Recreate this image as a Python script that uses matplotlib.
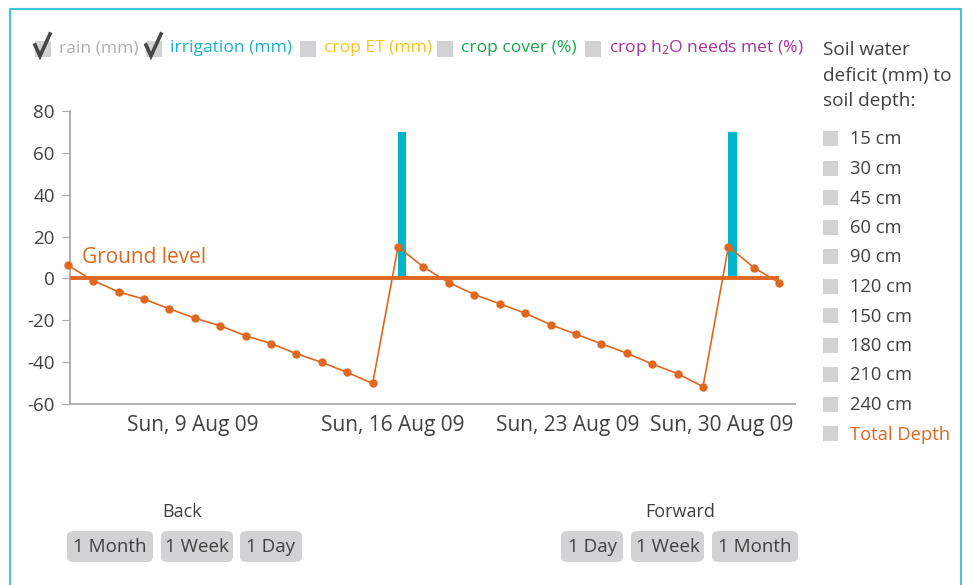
import matplotlib
matplotlib.use("Agg")
import numpy as np
from matplotlib import pyplot as plt
from matplotlib.patches import FancyBboxPatch, Rectangle
from matplotlib.lines import Line2D

plt.rcParams['font.family'] = ['Open Sans', 'DejaVu Sans']
plt.rcParams['mathtext.fontset'] = 'custom'
plt.rcParams['mathtext.rm'] = 'Open Sans'
plt.rcParams['mathtext.it'] = 'Open Sans'

# soil water deficit, total depth (mm), one value per day
days = list(range(29))
deficit = [6.3, -1.0, -6.4, -9.9, -14.5, -19.0, -22.6, -27.4, -31.1, -36.0,
           -40.1, -44.9, -50.2, 15.2, 5.4, -2.0, -7.7, -12.1, -16.6, -22.1,
           -26.6, -31.2, -35.7, -40.9, -45.5, -51.7, 15.2, 5.2, -2.1]
# irrigation events
irrig_days = [13, 26]
irrig_mm = [70, 70]
# date labels (positions in days as drawn)
date_pos = [4.93, 12.8, 19.69, 25.75]
date_labels = ["Sun, 9 Aug 09", "Sun, 16 Aug 09", "Sun, 23 Aug 09", "Sun, 30 Aug 09"]
yticks = [-60, -40, -20, 0, 20, 40, 60, 80]

legend_items = ["rain (mm)", "irrigation (mm)", "crop ET (mm)", "crop cover (%)",
                r"crop h$_\mathrm{2}$O needs met (%)"]
legend_colors = ["#b0b0b0", "#1ab4d0", "#fcc418", "#1aa84e", "#a8329a"]
legend_checked = [True, True, False, False, False]
legend_box_x = [35, 146, 300, 437, 585]
depths = ["15 cm", "30 cm", "45 cm", "60 cm", "90 cm", "120 cm", "150 cm",
          "180 cm", "210 cm", "240 cm", "Total Depth"]

W, H = 963, 585
ORANGE = "#e0671f"
CYAN = "#00b4cc"
DARK = "#404040"
BOXGRAY = "#d2d2d4"


def px(x, y):
    return x / W, 1 - y / H


fig = plt.figure(figsize=(W / 100, H / 100), dpi=100)

# frame
fig.add_artist(Line2D([9.5 / W, 9.5 / W, 961 / W, 961 / W], [0, 1 - 9 / H, 1 - 9 / H, 0],
                      transform=fig.transFigure, color="#3ec6da", lw=1.5))

ax = fig.add_axes([70 / W, 1 - 404 / H, (795 - 70) / W, (404 - 111) / H])
ax.bar(irrig_days, irrig_mm, width=0.32, align='edge', color=CYAN, zorder=2)
ax.hlines(0, days[0], days[-1], color=ORANGE, lw=2.8, zorder=3)
ax.plot(days, deficit, color=ORANGE, lw=1.2, marker='o', ms=5, zorder=4, clip_on=False)
ax.text(0.56, 9.8, "Ground level", color=ORANGE, fontsize=15, va='center', ha='left')

ax.set_xlim(0.09, 28.62)
ax.set_ylim(-60, 80)
ax.set_yticks(yticks)
ax.set_yticklabels([str(v) for v in yticks])
ax.set_xticks(date_pos)
ax.set_xticklabels(date_labels)
ax.tick_params(axis='y', length=6, color="#aaaaaa", labelsize=13.5, labelcolor=DARK, pad=5)
ax.tick_params(axis='x', length=0, labelsize=15, labelcolor=DARK, pad=8)
for s in ['top', 'right']:
    ax.spines[s].set_visible(False)
for s in ['left', 'bottom']:
    ax.spines[s].set_color("#aaaaaa")
    ax.spines[s].set_linewidth(1.3)

# legend row on top
for bx, label, col, chk in zip(legend_box_x, legend_items, legend_colors, legend_checked):
    x0, y0 = px(bx, 57)
    fig.add_artist(Rectangle((x0, y0), 16 / W, 16 / H, transform=fig.transFigure,
                             color=BOXGRAY, lw=0))
    if chk:
        cx = [px(bx, 45)[0], px(bx + 5, 56)[0], px(bx + 15, 34)[0]]
        cy = [px(bx, 45)[1], px(bx + 5, 56)[1], px(bx + 15, 34)[1]]
        fig.add_artist(Line2D(cx, cy, transform=fig.transFigure, color="#454545",
                              lw=2.6, solid_joinstyle='miter'))
    tx, ty = px(bx + 24, 48.5)
    fig.text(tx, ty, label, color=col, fontsize=12.6, va='center', ha='left')

# right panel
for i, line in enumerate(["Soil water", "deficit (mm) to", "soil depth:"]):
    fig.text(*px(823, 50 + i * 25.5), line, color=DARK, fontsize=13.7, va='center', ha='left')
for i, d in enumerate(depths):
    yc = 138.5 + i * 29.5
    x0, y0 = px(823, yc + 7.5)
    fig.add_artist(Rectangle((x0, y0), 15 / W, 15 / H, transform=fig.transFigure,
                             color=BOXGRAY, lw=0))
    col = ORANGE if d == "Total Depth" else DARK
    fig.text(*px(850, yc + 1), d, color=col, fontsize=13.2, va='center', ha='left')

# navigation buttons
fig.text(*px(182, 512), "Back", color=DARK, fontsize=13, va='center', ha='center')
fig.text(*px(680, 512), "Forward", color=DARK, fontsize=13, va='center', ha='center')
buttons = [("1 Month", 67, 153), ("1 Week", 161, 233), ("1 Day", 240, 302),
           ("1 Day", 561, 623), ("1 Week", 631, 704), ("1 Month", 712, 798)]
for label, xa, xb in buttons:
    x0, y0 = px(xa, 562)
    fig.add_artist(FancyBboxPatch((x0, y0), (xb - xa) / W, 31 / H,
                                  boxstyle="round,pad=0,rounding_size=0.008",
                                  transform=fig.transFigure, color=BOXGRAY, lw=0))
    fig.text(*px((xa + xb) / 2, 546.5), label, color=DARK, fontsize=13.5,
             va='center', ha='center')

plt.savefig("out.png", dpi=100)
